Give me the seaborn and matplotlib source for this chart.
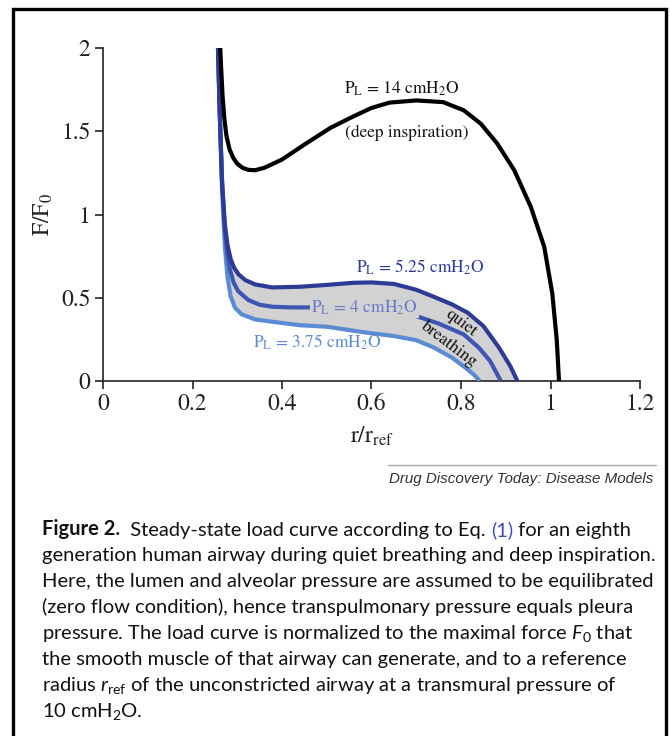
import numpy as np
import seaborn as sns
import matplotlib
import matplotlib.pyplot as plt
from matplotlib.patches import Rectangle
from matplotlib.lines import Line2D

matplotlib.use('Agg')

# deep inspiration, P_L = 14 cmH2O
r_14 = [0.262, 0.264, 0.267, 0.271, 0.276, 0.283, 0.291, 0.300, 0.312, 0.325, 0.340,
        0.360, 0.400, 0.450, 0.508, 0.560, 0.600, 0.640, 0.700, 0.760, 0.806, 0.844,
        0.881, 0.919, 0.956, 0.986, 1.004, 1.014, 1.019]
f_14 = [2.00, 1.88, 1.72, 1.58, 1.47, 1.39, 1.34, 1.305, 1.28, 1.268, 1.266,
        1.28, 1.33, 1.42, 1.52, 1.59, 1.64, 1.672, 1.685, 1.675, 1.626, 1.546,
        1.426, 1.266, 1.046, 0.806, 0.526, 0.246, 0.0]

# quiet breathing, upper bound P_L = 5.25 cmH2O
r_525 = [0.257, 0.261, 0.266, 0.272, 0.278, 0.285, 0.293, 0.303, 0.318, 0.340, 0.378,
         0.440, 0.500, 0.560, 0.600, 0.650, 0.700, 0.740, 0.780, 0.815, 0.850, 0.885,
         0.910, 0.926]
f_525 = [2.00, 1.60, 1.20, 0.95, 0.82, 0.735, 0.68, 0.64, 0.606, 0.58, 0.562,
         0.566, 0.577, 0.59, 0.592, 0.583, 0.548, 0.505, 0.46, 0.41, 0.33, 0.20,
         0.09, 0.0]

# P_L = 4 cmH2O
r_4 = [0.257, 0.261, 0.266, 0.272, 0.278, 0.284, 0.292, 0.302, 0.325, 0.350, 0.378,
       0.420, 0.467, 0.520, 0.580, 0.640, 0.700, 0.750, 0.806, 0.840, 0.865, 0.889]
f_4 = [2.00, 1.60, 1.20, 0.92, 0.76, 0.665, 0.59, 0.54, 0.486, 0.458, 0.446,
       0.442, 0.442, 0.445, 0.44, 0.425, 0.39, 0.345, 0.28, 0.20, 0.12, 0.0]

# quiet breathing, lower bound P_L = 3.75 cmH2O
r_375 = [0.257, 0.261, 0.266, 0.272, 0.278, 0.285, 0.295, 0.310, 0.340, 0.378, 0.440,
         0.500, 0.590, 0.650, 0.700, 0.740, 0.780, 0.810, 0.830, 0.842]
f_375 = [2.00, 1.60, 1.15, 0.82, 0.63, 0.51, 0.44, 0.40, 0.37, 0.356, 0.335,
         0.326, 0.29, 0.27, 0.245, 0.20, 0.14, 0.08, 0.035, 0.0]

x_ticks = [0, 0.2, 0.4, 0.6, 0.8, 1.0, 1.2]
x_ticklabels = ['0', '0.2', '0.4', '0.6', '0.8', '1', '1.2']
y_ticks = [0, 0.5, 1, 1.5, 2]
y_ticklabels = ['0', '0.5', '1', '1.5', '2']

caption_lines = [
    'generation human airway during quiet breathing and deep inspiration.',
    'Here, the lumen and alveolar pressure are assumed to be equilibrated',
    '(zero flow condition), hence transpulmonary pressure equals pleura',
    r'pressure. The load curve is normalized to the maximal force $F_0$ that',
    'the smooth muscle of that airway can generate, and to a reference',
    r'radius $r_{\mathrm{ref}}$ of the unconstricted airway at a transmural pressure of',
    r'10 cmH$_2$O.',
]

c_black = '#000000'
c_dark = '#2d3a96'
c_mid = '#3f55b3'
c_light = '#5b8bd2'
c_fill = '#d2d2d2'

sns.set_style('ticks')
plt.rcParams['font.family'] = ['Lato', 'DejaVu Sans']
plt.rcParams['mathtext.fontset'] = 'custom'
plt.rcParams['mathtext.rm'] = 'Lato'
plt.rcParams['mathtext.it'] = 'Lato:italic'
plt.rcParams['mathtext.bf'] = 'Lato:bold'

serif = dict(family='STIXGeneral', math_fontfamily='stix')

fig = plt.figure(figsize=(6.71, 7.36), dpi=100)
W, H = 671, 736
ax = fig.add_axes([103 / W, 1 - 381 / H, 537 / W, 333 / H])

# gray band between the quiet breathing bounds
ax.fill(np.concatenate([r_525, r_375[::-1]]), np.concatenate([f_525, f_375[::-1]]),
        color=c_fill, lw=0, zorder=1)

lw = 3.0
for r, f, c in [(r_375, f_375, c_light), (r_4, f_4, c_mid), (r_525, f_525, c_dark),
                (r_14, f_14, c_black)]:
    sns.lineplot(x=r, y=f, sort=False, color=c, lw=lw, ax=ax, zorder=3,
                 solid_capstyle='butt', solid_joinstyle='round')

ax.set_xlim(0, 1.2)
ax.set_ylim(0, 2)
ax.set_xticks(x_ticks)
ax.set_xticklabels(x_ticklabels)
ax.set_yticks(y_ticks)
ax.set_yticklabels(y_ticklabels)
for lab in ax.get_xticklabels() + ax.get_yticklabels():
    lab.set_fontfamily('STIXGeneral')
    lab.set_fontsize(17)
ax.tick_params(axis='both', direction='out', length=6, width=1.2, color='#222222',
               labelcolor='#222222', pad=3)
sns.despine(ax=ax)
for s in ['left', 'bottom']:
    ax.spines[s].set_linewidth(1.2)
    ax.spines[s].set_color('#222222')
ax.set_xlabel(r'r/r$_\mathrm{ref}$', fontsize=17, labelpad=7, color='#222222', **serif)
ax.set_ylabel(r'F/F$_0$', fontsize=17, labelpad=4, color='#222222', **serif)

fs = 12.5
ax.text(0.667, 1.755, r'P$_\mathrm{L}$ = 14 cmH$_2$O', ha='center', va='center',
        fontsize=fs, color='#111111', zorder=5, **serif)
ax.text(0.678, 1.49, '(deep inspiration)', ha='center', va='center',
        fontsize=fs, color='#111111', zorder=5, **serif)
ax.text(0.71, 0.68, r'P$_\mathrm{L}$ = 5.25 cmH$_2$O', ha='center', va='center',
        fontsize=fs, color=c_dark, zorder=5, **serif)
ax.text(0.584, 0.44, r'P$_\mathrm{L}$ = 4 cmH$_2$O', ha='center', va='center',
        fontsize=fs, color='#6a78c8', zorder=5,
        bbox=dict(boxstyle='square,pad=0.05', fc=c_fill, ec='none'), **serif)
ax.text(0.479, 0.234, r'P$_\mathrm{L}$ = 3.75 cmH$_2$O', ha='center', va='center',
        fontsize=fs, color=c_light, zorder=5, **serif)
ax.text(0.80, 0.345, 'quiet', ha='center', va='center', rotation=-37,
        fontsize=fs, color='#111111', zorder=5, **serif)
ax.text(0.772, 0.22, 'breathing', ha='center', va='center', rotation=-37,
        fontsize=fs, color='#111111', zorder=5, **serif)

# journal line
fig.add_artist(Line2D([388 / W, 656 / W], [1 - 465 / H, 1 - 465 / H], color='#aaaaaa', lw=1.0))
fig.text(653 / W, 1 - 479 / H, 'Drug Discovery Today: Disease Models', ha='right', va='center',
         fontsize=10.9, style='italic', family=['Liberation Sans', 'DejaVu Sans'],
         color='#333333')

# caption
cap_fs = 14.5
y0 = 1 - 529 / H
step = 26.0 / H
t = fig.text(42 / W, y0, 'Figure 2.', fontsize=cap_fs, fontweight='bold', va='center',
             color='#111111')
a1 = plt.annotate('  Steady-state load curve according to Eq. ', xy=(1, 0), xycoords=t,
                  va='bottom', fontsize=cap_fs, color='#111111', annotation_clip=False)
a2 = plt.annotate('(1)', xy=(1, 0), xycoords=a1, va='bottom', fontsize=cap_fs,
                  color='#3d4fb0', annotation_clip=False)
a3 = plt.annotate(' for an eighth', xy=(1, 0), xycoords=a2, va='bottom', fontsize=cap_fs,
                  color='#111111', annotation_clip=False)
for i, line in enumerate(caption_lines):
    fig.text(42 / W, y0 - (i + 1) * step, line, fontsize=cap_fs, va='center', color='#111111')

# frame around the whole figure
fig.add_artist(Rectangle((12.5 / W, -0.05), (666 - 12.5) / W, 1.05 - 9 / H,
                         transform=fig.transFigure, fill=False, lw=2.4, ec='black'))

fig.savefig('out.png', dpi=100)
